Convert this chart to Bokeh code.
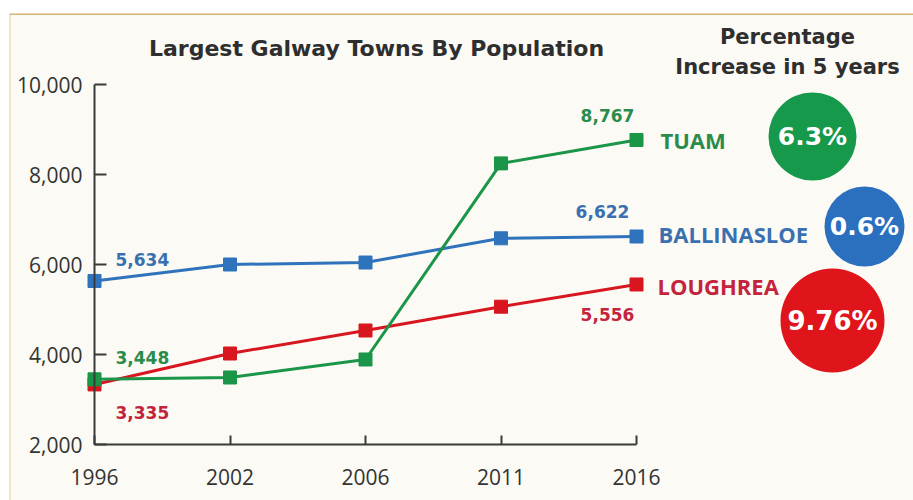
from bokeh.plotting import figure
from bokeh.models import FixedTicker, NumeralTickFormatter, Span, Range1d
from bokeh.core.properties import value
from bokeh.embed import file_html
from bokeh.resources import INLINE

# ---------------- data ----------------
years = ["1996", "2002", "2006", "2011", "2016"]
tuam = [3448, 3489, 3889, 8247, 8767]
ballinasloe = [5634, 6000, 6044, 6582, 6622]
loughrea = [3335, 4022, 4533, 5062, 5556]
towns = ["TUAM", "BALLINASLOE", "LOUGHREA"]
pct_increase = ["6.3%", "0.6%", "9.76%"]
y_ticks = [2000, 4000, 6000, 8000, 10000]

# ---------------- layout constants ----------------
W, H = 913, 500
TOP_PAD = 13
LEFT_PAD = 9
PX_X = 135.5     # pixels per census step
PX_Y = 0.045     # pixels per person
X0_PX = 94       # canvas x of the first census
Y2000_PX = 444   # canvas y of the 2,000 line

def px2x(px):
    return (px - X0_PX) / PX_X

def px2y(py):
    return 2000 + (Y2000_PX - py) / PX_Y

CREAM = "#fbfaf4"
GREEN, BLUE, RED = "#1b9548", "#2f73bd", "#d8161f"
GREEN_T, BLUE_T, RED_T = "#2a8c4c", "#3a70b0", "#c4233e"
C_GREEN, C_BLUE, C_RED = "#16994a", "#2a70bf", "#e0141b"
DARK = "#2e2e2e"
FONT = "Open Sans"
WIDE = "DejaVu Sans"

x = list(range(len(years)))

p = figure(width=W, height=H,
           x_range=Range1d(px2x(LEFT_PAD), px2x(W)),
           y_range=Range1d(px2y(H), px2y(TOP_PAD)),
           output_backend="svg", toolbar_location=None,
           min_border=0, min_border_top=TOP_PAD, min_border_left=LEFT_PAD,
           background_fill_color=CREAM, border_fill_color="white")
p.outline_line_color = None
p.grid.visible = False

# axes
p.xaxis.fixed_location = 2000
p.yaxis.fixed_location = 0
p.xaxis.bounds = (0, len(years) - 1)
p.yaxis.bounds = (y_ticks[0], y_ticks[-1])
p.xaxis.ticker = FixedTicker(ticks=x)
p.xaxis.major_label_overrides = {i: y for i, y in enumerate(years)}
p.yaxis.ticker = FixedTicker(ticks=y_ticks)
p.yaxis.formatter = NumeralTickFormatter(format="0,0")
for ax in (p.xaxis, p.yaxis):
    ax.axis_line_width = 2
    ax.axis_line_color = "#3a3a3a"
    ax.major_tick_line_color = "#3a3a3a"
    ax.major_tick_line_width = 2
    ax.major_tick_out = 0
    ax.minor_tick_line_color = None
    ax.major_label_text_font = FONT
    ax.major_label_text_font_size = "21px"
    ax.major_label_text_color = "#333333"
p.yaxis.major_tick_in = 12
p.xaxis.major_tick_in = 9
p.yaxis.major_label_standoff = 12
p.xaxis.major_label_standoff = 24

# tan frame border
p.add_layout(Span(location=px2y(TOP_PAD), dimension="width", line_color="#d6b274", line_width=3))
p.add_layout(Span(location=px2x(LEFT_PAD), dimension="height", line_color="#e2cc9c", line_width=2))

# series
for vals, col in ((ballinasloe, BLUE), (loughrea, RED), (tuam, GREEN)):
    p.line(x, vals, line_color=col, line_width=3)
    p.scatter(x, vals, marker="square", size=13, fill_color=col, line_color=col)

def txt(xv, yv, s, color, size, bold=True, align="left", xo=0, yo=0, font=FONT):
    p.text(x=[xv], y=[yv], text=[s], text_color=color, text_font=value(font),
           text_font_size=size, text_font_style="bold" if bold else "normal",
           text_align=align, text_baseline="middle", x_offset=xo, y_offset=yo)

last = len(years) - 1
# value labels at ends
VS = "17px"
txt(last, tuam[-1], f"{tuam[-1]:,}", GREEN_T, VS, align="center", xo=-29, yo=-24, font=WIDE)
txt(last, ballinasloe[-1], f"{ballinasloe[-1]:,}", BLUE_T, VS, align="center", xo=-34, yo=-25, font=WIDE)
txt(last, loughrea[-1], f"{loughrea[-1]:,}", RED_T, VS, align="center", xo=-29, yo=30, font=WIDE)
txt(0, ballinasloe[0], f"{ballinasloe[0]:,}", BLUE_T, VS, xo=21, yo=-21, font=WIDE)
txt(0, tuam[0], f"{tuam[0]:,}", GREEN_T, VS, xo=21, yo=-22, font=WIDE)
txt(0, loughrea[0], f"{loughrea[0]:,}", RED_T, VS, xo=21, yo=28, font=WIDE)

# town names
txt(last, tuam[-1], towns[0], GREEN_T, "22px", xo=24, yo=0)
txt(last, ballinasloe[-1], towns[1], BLUE_T, "22px", xo=22, yo=-3)
txt(last, loughrea[-1], towns[2], RED_T, "22px", xo=21, yo=2)

# percentage circles
circles = [(812, 136, 88, C_GREEN, "25px"), (864, 226, 80, C_BLUE, "25px"), (832, 320, 104, C_RED, "26px")]
for (cx, cy, d, col, fs), label in zip(circles, pct_increase):
    p.scatter([px2x(cx)], [px2y(cy)], marker="circle", size=d, fill_color=col, line_color=None)
    txt(px2x(cx), px2y(cy), label, "white", fs, align="center", font=WIDE)

# titles
txt(px2x(376), px2y(48), "Largest Galway Towns By Population", DARK, "22px", align="center", font=WIDE)
txt(px2x(787), px2y(36), "Percentage", DARK, "21px", align="center", font=WIDE)
txt(px2x(787), px2y(66), "Increase in 5 years", DARK, "21px", align="center", font=WIDE)

open("out.html", "w").write(file_html(p, INLINE))
